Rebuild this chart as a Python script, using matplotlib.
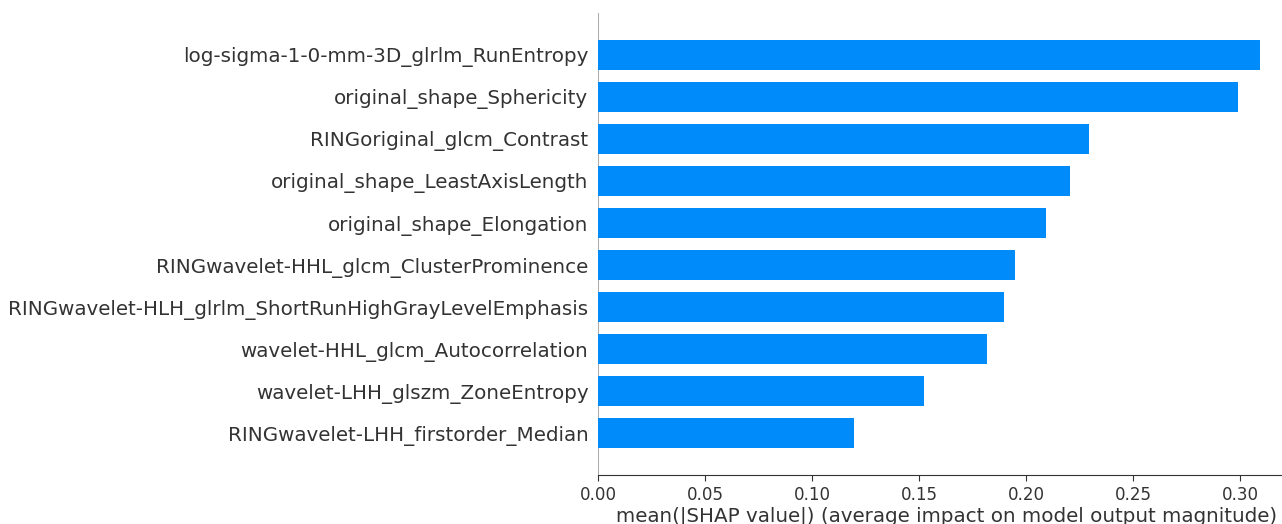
import matplotlib
matplotlib.use("Agg")
import matplotlib.pyplot as plt

# feature names, top to bottom as in the picture
features = [
    "log-sigma-1-0-mm-3D_glrlm_RunEntropy",
    "original_shape_Sphericity",
    "RINGoriginal_glcm_Contrast",
    "original_shape_LeastAxisLength",
    "original_shape_Elongation",
    "RINGwavelet-HHL_glcm_ClusterProminence",
    "RINGwavelet-HLH_glrlm_ShortRunHighGrayLevelEmphasis",
    "wavelet-HHL_glcm_Autocorrelation",
    "wavelet-LHH_glszm_ZoneEntropy",
    "RINGwavelet-LHH_firstorder_Median",
]
mean_shap = [0.3093, 0.2990, 0.2294, 0.2206, 0.2093, 0.1949, 0.1897, 0.1818, 0.1523, 0.1196]
xticks = [0.00, 0.05, 0.10, 0.15, 0.20, 0.25, 0.30]

axis_color = "#333333"
n = len(features)
ypos = list(range(n - 1, -1, -1))

fig = plt.figure(figsize=(12.82, 5.24), dpi=100)
ax = fig.add_axes([0.4665, 0.0935, 0.543, 0.8817])

ax.barh(ypos, mean_shap, height=0.7, color="#008bfb", align="center")
ax.axvline(0, color="#999999", zorder=-1, lw=1.2)

ax.set_yticks(ypos)
ax.set_yticklabels(features, fontsize=14.3)
ax.set_xticks(xticks)
ax.set_xticklabels(["%.2f" % x for x in xticks])
ax.set_xlim(0, 0.3253)
ax.set_ylim(-1, n)

ax.xaxis.set_ticks_position("bottom")
ax.yaxis.set_ticks_position("none")
ax.spines["right"].set_visible(False)
ax.spines["top"].set_visible(False)
ax.spines["left"].set_visible(False)
ax.spines["bottom"].set_color(axis_color)
ax.tick_params(color=axis_color, labelcolor=axis_color)
ax.tick_params("x", labelsize=12.1, length=4.4)
ax.set_xlabel("mean(|SHAP value|) (average impact on model output magnitude)", fontsize=14.3,
              color=axis_color, labelpad=2)

fig.savefig("out.png", dpi=100)
